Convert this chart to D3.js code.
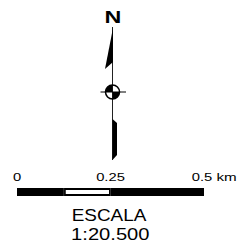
<!DOCTYPE html>
<html>
<head>
<meta charset="utf-8">
<script src="https://cdn.jsdelivr.net/npm/d3@7"></script>
<style>
	html, body { margin: 0; padding: 0; background: #fff; }
	svg { display: block; }
	text { font-family: "Liberation Sans", Arial, sans-serif; fill: #000; }
</style>
</head>
<body>
<div id="chart"></div>
<script>
const WIDTH = 247;
const HEIGHT = 244;

// scale bar values (km)
const SEGMENT_BREAKS = [0, 0.125, 0.25, 0.5];
const SEGMENT_FILLS = ['black', 'white', 'black'];
const TICK_VALUES = [0, 0.25, 0.5];
const TICK_LABELS = ['0', '0.25', '0.5'];
const UNIT = 'km';
const TITLE = 'ESCALA';
const RATIO = '1:20.500';

const BAR = {left: 17, right: 204, top: 188, height: 8};
const ROSE = {x: 112.5, y: 92};

const svg = d3.select('#chart').append('svg')
	.attr('width', WIDTH)
	.attr('height', HEIGHT);

// North arrow
function renderNorth() {
	let g = svg.append('g')
		.attr('transform', `translate(${ROSE.x}, ${ROSE.y})`);

	g.append('line')
		.attr('x1', 0).attr('x2', 0)
		.attr('y1', -65).attr('y2', 68)
		.attr('stroke', '#222')
		.attr('stroke-width', 1);

	// upper needle
	g.append('path')
		.attr('d', 'M0.5,-64 L-7.5,-23 L0.5,-30 Z')
		.attr('fill', '#000');

	// lower needle
	g.append('path')
		.attr('d', 'M0,27 L4.5,31 L4.5,63 L0,68 Z')
		.attr('fill', '#000');

	// crosshair
	g.append('line')
		.attr('x1', -12).attr('x2', 13.5)
		.attr('y1', 0).attr('y2', 0)
		.attr('stroke', '#000')
		.attr('stroke-width', 1);

	let arc = d3.arc().innerRadius(0).outerRadius(7);
	g.selectAll('path.quad')
		.data([[-Math.PI / 2, 0], [Math.PI / 2, Math.PI]])
		.join('path')
		.attr('class', 'quad')
		.attr('d', d => arc({startAngle: d[0], endAngle: d[1]}))
		.attr('fill', '#000');

	g.append('circle')
		.attr('r', 7)
		.attr('fill', 'none')
		.attr('stroke', '#000')
		.attr('stroke-width', 1.5);

	g.append('text')
		.attr('transform', 'translate(0.5, -68.7) scale(1.37, 1)')
		.attr('text-anchor', 'middle')
		.style('font-size', '17px')
		.style('font-weight', 'bold')
		.text('N');
}

// Scale bar
function renderScale() {
	let x = d3.scaleLinear()
		.domain([0, 0.5])
		.range([BAR.left, BAR.right]);

	let segments = d3.pairs(SEGMENT_BREAKS).map((p, i) => ({from: p[0], to: p[1], fill: SEGMENT_FILLS[i]}));

	svg.append('rect')
		.attr('x', x(0))
		.attr('y', BAR.top)
		.attr('width', x(0.5) - x(0))
		.attr('height', BAR.height)
		.attr('fill', '#000');

	svg.selectAll('rect.seg')
		.data(segments.filter(d => d.fill === 'white'))
		.join('rect')
		.attr('class', 'seg')
		.attr('x', d => x(d.from) + 2)
		.attr('y', BAR.top + 2)
		.attr('width', d => x(d.to) - x(d.from) - 3.5)
		.attr('height', BAR.height - 4)
		.attr('fill', '#fff');

	svg.selectAll('line.div')
		.data(SEGMENT_BREAKS.slice(1, -1))
		.join('line')
		.attr('class', 'div')
		.attr('x1', d => x(d)).attr('x2', d => x(d))
		.attr('y1', BAR.top).attr('y2', BAR.top + BAR.height)
		.attr('stroke', '#555')
		.attr('stroke-width', 0.6);

	// tick labels, the last one a bit left of the bar end
	svg.selectAll('text.tick')
		.data(TICK_VALUES)
		.join('text')
		.attr('class', 'tick')
		.attr('transform', (d, i) => `translate(${x(d) - (i === TICK_VALUES.length - 1 ? 2 : 0)}, 181) scale(1.38, 1)`)
		.attr('text-anchor', 'middle')
		.style('font-size', '10.7px')
		.text((d, i) => TICK_LABELS[i]);

	svg.append('text')
		.attr('transform', `translate(${x(0.5) + 12.5}, 181) scale(1.42, 1)`)
		.style('font-size', '10.7px')
		.text(UNIT);

	svg.append('text')
		.attr('transform', 'translate(109, 221.3) scale(1.16, 1)')
		.attr('text-anchor', 'middle')
		.style('font-size', '16.3px')
		.text(TITLE);

	svg.append('text')
		.attr('transform', 'translate(110.3, 240.3) scale(1.2, 1)')
		.attr('text-anchor', 'middle')
		.style('font-size', '16.8px')
		.text(RATIO);
}

renderNorth();
renderScale();
</script>
</body>
</html>
